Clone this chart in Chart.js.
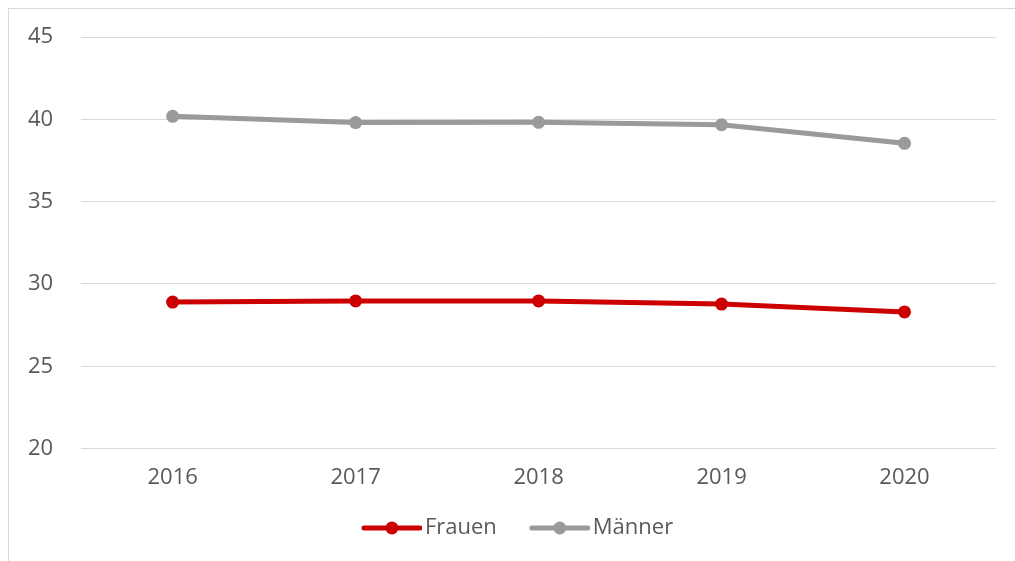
<!DOCTYPE html>
<html>
<head>
<meta charset="utf-8">
<script src="https://cdn.jsdelivr.net/npm/chart.js@4/dist/chart.umd.min.js"></script>
<style>
  html, body { margin: 0; padding: 0; background: #fff; }
  #wrap { position: relative; width: 1015px; height: 561px; overflow: hidden; }
  #frame { position: absolute; left: 8px; top: 8px; width: 1100px; height: 1000px;
           border: 1px solid #d9d9d9; pointer-events: none; }
</style>
</head>
<body>
<div id="wrap">
  <canvas id="lineChart" width="1015" height="561"></canvas>
  <div id="frame"></div>
</div>
<script>
const years = ['2016', '2017', '2018', '2019', '2020']
const frauen = [28.9, 28.97, 28.97, 28.78, 28.3]
const maenner = [40.18, 39.8, 39.82, 39.67, 38.54]
const yTicks = [20, 25, 30, 35, 40, 45]

const red = '#CC0000'
const grey = '#9A9A9A'

// legend marker: short line with a dot in the middle (left part transparent for spacing)
function legendMark(color) {
  const c = document.createElement('canvas')
  c.width = 83
  c.height = 16
  const g = c.getContext('2d')
  g.strokeStyle = color
  g.lineWidth = 5
  g.lineCap = 'round'
  g.beginPath()
  g.moveTo(25, 8)
  g.lineTo(81, 8)
  g.stroke()
  g.fillStyle = color
  g.beginPath()
  g.arc(53, 8, 6.5, 0, Math.PI * 2)
  g.fill()
  return c
}

// legend sits a bit right of the canvas centre in the original
const legendShift = {
  id: 'legendShift',
  afterLayout(chart) {
    chart.legend.left += 12
    chart.legend.right += 12
  }
}

const ctx = document.getElementById('lineChart')

const myChart = new Chart(ctx, {
  type: 'line',
  data: {
    labels: years,
    datasets: [{
      label: 'Frauen',
      data: frauen,
      borderColor: red,
      backgroundColor: red,
      borderWidth: 5,
      pointRadius: 6.5,
      pointBorderWidth: 0
    }, {
      label: 'Männer',
      data: maenner,
      borderColor: grey,
      backgroundColor: grey,
      borderWidth: 5,
      pointRadius: 6.5,
      pointBorderWidth: 0
    }]
  },
  plugins: [legendShift],
  options: {
    responsive: false,
    animation: false,
    layout: { padding: { left: 0, right: 19, top: 37, bottom: 12 } },
    elements: { line: { tension: 0 } },
    scales: {
      x: {
        offset: true,
        grid: { display: false },
        border: { display: false },
        ticks: { color: '#595959', font: { family: 'Open Sans', size: 22 }, padding: 8 }
      },
      y: {
        min: 20,
        max: 45,
        afterBuildTicks: (axis) => { axis.ticks = yTicks.map(v => ({ value: v })) },
        afterFit: (axis) => { axis.paddingTop = 0 },
        grid: { color: '#d9d9d9', lineWidth: 1, drawTicks: false },
        border: { display: false },
        ticks: { color: '#595959', font: { family: 'Open Sans', size: 22 }, padding: 28 }
      }
    },
    plugins: {
      tooltip: { enabled: false },
      legend: {
        position: 'bottom',
        labels: {
          color: '#595959',
          font: { family: 'Open Sans', size: 22 },
          usePointStyle: true,
          pointStyleWidth: 67,
          padding: 18,
          generateLabels: (chart) => chart.data.datasets.map((ds, i) => ({
            text: ds.label,
            fontColor: '#595959',
            pointStyle: legendMark(ds.borderColor),
            datasetIndex: i,
            lineWidth: 0,
            hidden: false
          }))
        }
      }
    }
  }
})
</script>
</body>
</html>
